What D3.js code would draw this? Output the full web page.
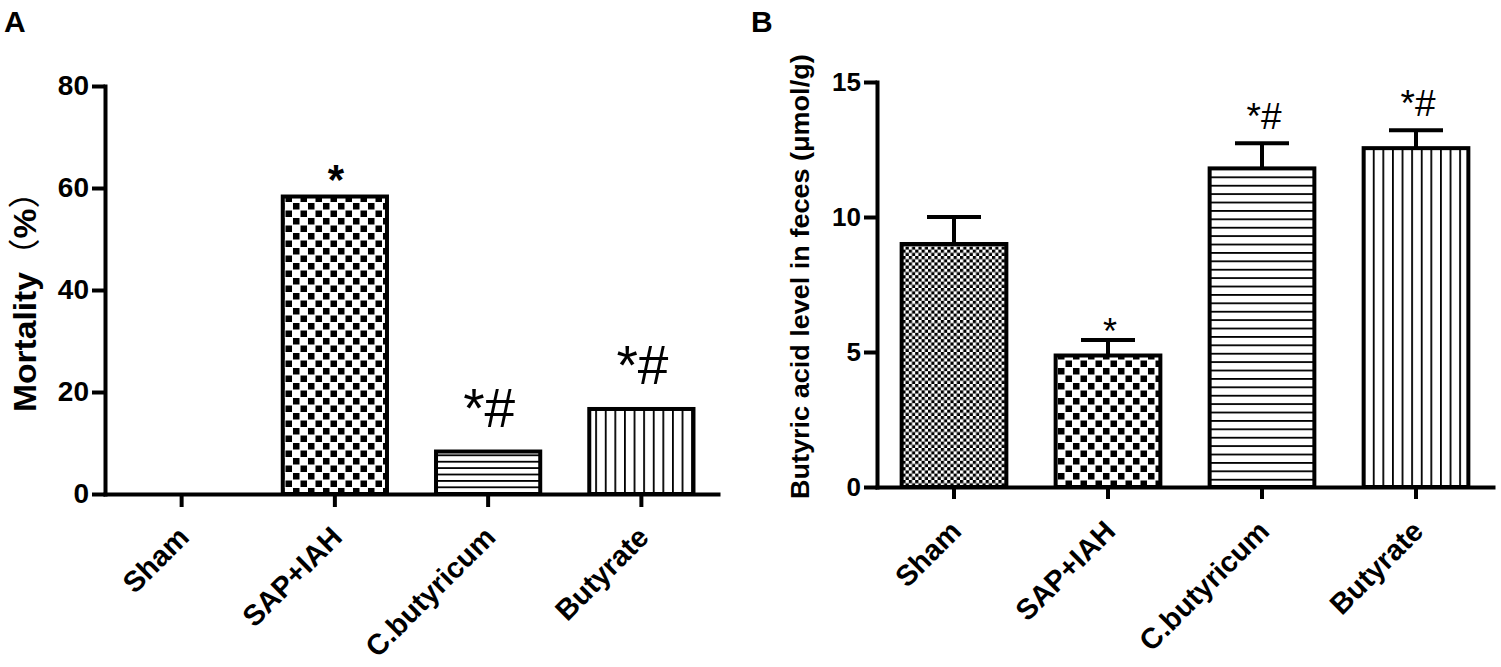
<!DOCTYPE html>
<html>
<head>
<meta charset="utf-8">
<script src="https://cdn.jsdelivr.net/npm/d3@7/dist/d3.min.js"></script>
<style>
  html, body { margin: 0; padding: 0; background: #fff; }
  svg { display: block; }
  text { font-family: "Liberation Sans", Arial, Helvetica, sans-serif; fill: #000; }
</style>
</head>
<body>
<script>
// ---------------- DATA ----------------
const categories = ["Sham", "SAP+IAH", "C.butyricum", "Butyrate"];
const mortality = [0, 58.33, 8.33, 16.67];
const mortalityMarks = ["", "*", "*#", "*#"];
const butyric = [9.0, 4.87, 11.8, 12.55];
const butyricErr = [1.0, 0.57, 0.93, 0.66];
const butyricMarks = ["", "*", "*#", "*#"];
const yTicksA = [0, 20, 40, 60, 80];
const yTicksB = [0, 5, 10, 15];
const patternA = ["none", "checker", "hlinesA", "vlines"];
const patternB = ["fineChecker", "checker", "hlinesB", "vlines"];

// ---------------- SVG ----------------
const W = 1501, H = 667;
const svg = d3.select("body").append("svg").attr("width", W).attr("height", H);
const defs = svg.append("defs");

// checker pattern
const pc = defs.append("pattern").attr("id", "checker").attr("patternUnits", "userSpaceOnUse")
  .attr("width", 15).attr("height", 15);
pc.append("rect").attr("width", 15).attr("height", 15).attr("fill", "#fff");
pc.append("rect").attr("x", 0.5).attr("y", 0.5).attr("width", 6.5).attr("height", 6.5).attr("fill", "#000");
pc.append("rect").attr("x", 8).attr("y", 8).attr("width", 6.5).attr("height", 6.5).attr("fill", "#000");

// fine checker
const pf = defs.append("pattern").attr("id", "fineChecker").attr("patternUnits", "userSpaceOnUse")
  .attr("width", 6.4).attr("height", 6.4);
pf.append("rect").attr("width", 6.4).attr("height", 6.4).attr("fill", "#fff");
pf.append("rect").attr("x", 0).attr("y", 0).attr("width", 3.2).attr("height", 3.2).attr("fill", "#000");
pf.append("rect").attr("x", 3.2).attr("y", 3.2).attr("width", 3.2).attr("height", 3.2).attr("fill", "#000");

// horizontal lines
function hlines(id, step) {
  const p = defs.append("pattern").attr("id", id).attr("patternUnits", "userSpaceOnUse")
    .attr("width", 10).attr("height", step);
  p.append("rect").attr("width", 10).attr("height", step).attr("fill", "#fff");
  p.append("rect").attr("x", 0).attr("y", 0).attr("width", 10).attr("height", 1.8).attr("fill", "#000");
}
hlines("hlinesA", 6.4);
hlines("hlinesB", 8.4);

// vertical lines
const pv = defs.append("pattern").attr("id", "vlines").attr("patternUnits", "userSpaceOnUse")
  .attr("width", 9.6).attr("height", 10);
pv.append("rect").attr("width", 9.6).attr("height", 10).attr("fill", "#fff");
pv.append("rect").attr("x", 0).attr("y", 0).attr("width", 1.8).attr("height", 10).attr("fill", "#000");

function styleAxis(g, fontSize) {
  g.select(".domain").attr("stroke", "#000").attr("stroke-width", 4).attr("stroke-linecap", "square");
  g.selectAll(".tick line").attr("stroke", "#000").attr("stroke-width", 4);
  g.selectAll(".tick text").attr("font-size", fontSize).attr("font-weight", "bold")
    .attr("font-family", "'Liberation Sans', Arial, sans-serif").attr("fill", "#000");
}

// ---------------- PANEL A ----------------
const xA = d3.scaleBand().domain(categories).range([105, 718]).paddingInner(0.32).paddingOuter(0.16);
const yA = d3.scaleLinear().domain([0, 80]).range([494, 86]);

const gA = svg.append("g");

gA.append("g").selectAll("rect").data(categories).join("rect")
  .attr("x", d => xA(d))
  .attr("width", xA.bandwidth())
  .attr("y", (d, i) => yA(mortality[i]))
  .attr("height", (d, i) => yA(0) - yA(mortality[i]))
  .attr("fill", (d, i) => patternA[i] === "none" ? "#fff" : `url(#${patternA[i]})`)
  .attr("stroke", "#000").attr("stroke-width", 4);

const axYA = gA.append("g").attr("transform", "translate(105,0)")
  .call(d3.axisLeft(yA).tickValues(yTicksA).tickSize(13).tickSizeOuter(0).tickPadding(3));
styleAxis(axYA, 28);

const axXA = gA.append("g").attr("transform", "translate(0,494)")
  .call(d3.axisBottom(xA).tickSize(13).tickSizeOuter(0));
styleAxis(axXA, 29);
axXA.selectAll(".tick text").attr("x", 0).attr("y", 0).attr("dy", 0)
  .attr("text-anchor", "end").attr("transform", "translate(9,45) rotate(-45)");

// annotations A
gA.append("g").selectAll("text").data(categories).join("text")
  .attr("x", d => xA(d) + xA.bandwidth() / 2 + 1)
  .attr("y", (d, i) => yA(mortality[i]) - (mortalityMarks[i] === "*" ? 3 : 25))
  .attr("text-anchor", "middle")
  .attr("font-size", (d, i) => mortalityMarks[i] === "*" ? 42 : 55)
  .attr("font-weight", (d, i) => mortalityMarks[i] === "*" ? "bold" : "normal")
  .text((d, i) => mortalityMarks[i]);

// y label A
const labA = gA.append("text").attr("transform", "translate(36,412) rotate(-90) scale(1.05,1)")
  .attr("text-anchor", "start").attr("font-size", 32).attr("font-weight", "bold");
labA.append("tspan").text("Mortality");
labA.append("tspan").attr("font-family", "'Noto Sans CJK SC', sans-serif").attr("font-weight", "normal").text("（");
labA.append("tspan").text("%");
labA.append("tspan").attr("font-family", "'Noto Sans CJK SC', sans-serif").attr("font-weight", "normal").text("）");

gA.append("text").attr("x", 4).attr("y", 32).attr("font-size", 30).attr("font-weight", "bold").text("A");

// ---------------- PANEL B ----------------
const xB = d3.scaleBand().domain(categories).range([877, 1493]).paddingInner(0.32).paddingOuter(0.16);
const yB = d3.scaleLinear().domain([0, 15]).range([487, 82]);

const gB = svg.append("g");

// error bars (behind bars)
const eb = gB.append("g").selectAll("g").data(categories).join("g");
eb.append("line")
  .attr("x1", d => xB(d) + xB.bandwidth() / 2).attr("x2", d => xB(d) + xB.bandwidth() / 2)
  .attr("y1", (d, i) => yB(butyric[i])).attr("y2", (d, i) => yB(butyric[i] + butyricErr[i]))
  .attr("stroke", "#000").attr("stroke-width", 4);
eb.append("line")
  .attr("x1", d => xB(d) + xB.bandwidth() / 2 - 27).attr("x2", d => xB(d) + xB.bandwidth() / 2 + 27)
  .attr("y1", (d, i) => yB(butyric[i] + butyricErr[i])).attr("y2", (d, i) => yB(butyric[i] + butyricErr[i]))
  .attr("stroke", "#000").attr("stroke-width", 4);

gB.append("g").selectAll("rect").data(categories).join("rect")
  .attr("x", d => xB(d))
  .attr("width", xB.bandwidth())
  .attr("y", (d, i) => yB(butyric[i]))
  .attr("height", (d, i) => yB(0) - yB(butyric[i]))
  .attr("fill", (d, i) => `url(#${patternB[i]})`)
  .attr("stroke", "#000").attr("stroke-width", 4);

const axYB = gB.append("g").attr("transform", "translate(877,0)")
  .call(d3.axisLeft(yB).tickValues(yTicksB).tickSize(13).tickSizeOuter(0).tickPadding(3));
styleAxis(axYB, 26);

const axXB = gB.append("g").attr("transform", "translate(0,487)")
  .call(d3.axisBottom(xB).tickSize(12).tickSizeOuter(0));
styleAxis(axXB, 29);
axXB.selectAll(".tick text").attr("x", 0).attr("y", 0).attr("dy", 0)
  .attr("text-anchor", "end").attr("transform", "translate(9,46) rotate(-45)");

// annotations B
gB.append("g").selectAll("text").data(categories).join("text")
  .attr("x", d => xB(d) + xB.bandwidth() / 2 + 2)
  .attr("y", (d, i) => yB(butyric[i] + butyricErr[i]) + (butyricMarks[i] === "*" ? 4 : -14))
  .attr("text-anchor", "middle")
  .attr("font-size", (d, i) => butyricMarks[i] === "*" ? 36 : 37)
  .text((d, i) => butyricMarks[i]);

gB.append("text").attr("transform", "translate(809,499) rotate(-90) scale(1.04,1)")
  .attr("text-anchor", "start").attr("font-size", 26).attr("font-weight", "bold")
  .text("Butyric acid level in feces (μmol/g)");

gB.append("text").attr("x", 751).attr("y", 32).attr("font-size", 30).attr("font-weight", "bold").text("B");
</script>
</body>
</html>
